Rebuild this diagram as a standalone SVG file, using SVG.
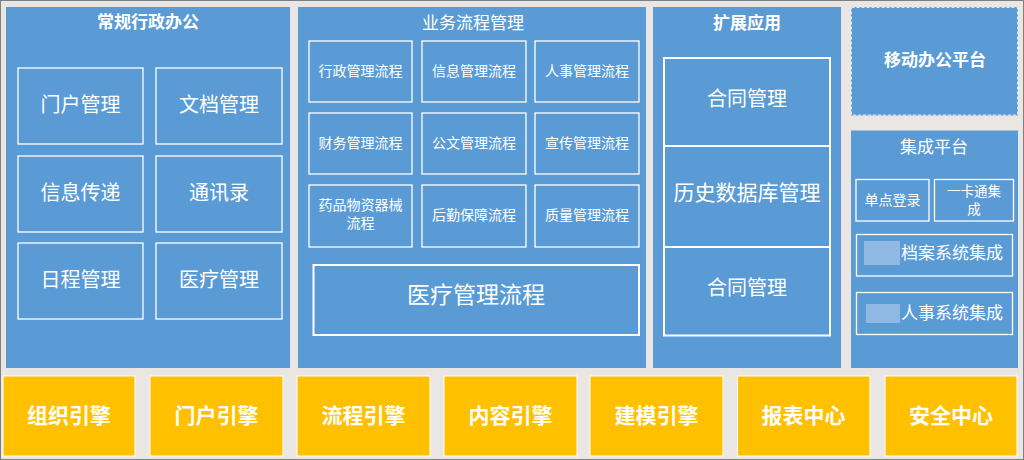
<svg xmlns="http://www.w3.org/2000/svg" width="1024" height="460" viewBox="0 0 1024 460">
<style>
text{font-family:"Noto Sans CJK SC","Noto Sans",sans-serif;fill:#fff;text-anchor:middle;dominant-baseline:central}
.panel{fill:#5b9bd5}
.box{fill:none;stroke:#fff;stroke-width:1.3}
.box2{fill:none;stroke:#fff;stroke-width:2}
.eng{fill:#ffc000;stroke:#fff;stroke-width:1}
.t17{font-size:17px}
.b{font-weight:bold}
.t20{font-size:20px}
.t14{font-size:14px}
.t21b{font-size:21px;font-weight:bold}
.blur{fill:#8fb8e2}
</style>
<rect x="0" y="0" width="1024" height="460" fill="#e9e6e3"/>
<rect x="0.5" y="0.5" width="1023" height="459" fill="none" stroke="#7f7f7f" stroke-width="1"/>

<g id="admin">
<rect class="panel" x="6" y="7" width="284" height="361"/>
<text class="t17 b" x="148" y="20">常规行政办公</text>
<rect class="box" x="18" y="68" width="125" height="76"/><text class="t20" x="80.5" y="103">门户管理</text>
<rect class="box" x="156" y="68" width="126" height="76"/><text class="t20" x="219" y="103">文档管理</text>
<rect class="box" x="18" y="156" width="125" height="76"/><text class="t20" x="80.5" y="191">信息传递</text>
<rect class="box" x="156" y="156" width="126" height="76"/><text class="t20" x="219" y="191">通讯录</text>
<rect class="box" x="18" y="243" width="125" height="76"/><text class="t20" x="80.5" y="278">日程管理</text>
<rect class="box" x="156" y="243" width="126" height="76"/><text class="t20" x="219" y="278">医疗管理</text>
</g>

<g id="workflow">
<rect class="panel" x="298" y="7" width="348" height="361"/>
<text class="t17" x="473" y="21">业务流程管理</text>
<rect class="box" x="309" y="41" width="103" height="61"/><text class="t14" x="360.5" y="69.5">行政管理流程</text>
<rect class="box" x="422" y="41" width="104" height="61"/><text class="t14" x="474" y="69.5">信息管理流程</text>
<rect class="box" x="535" y="41" width="104" height="61"/><text class="t14" x="587" y="69.5">人事管理流程</text>
<rect class="box" x="309" y="113" width="103" height="61"/><text class="t14" x="360.5" y="141.5">财务管理流程</text>
<rect class="box" x="422" y="113" width="104" height="61"/><text class="t14" x="474" y="141.5">公文管理流程</text>
<rect class="box" x="535" y="113" width="104" height="61"/><text class="t14" x="587" y="141.5">宣传管理流程</text>
<rect class="box" x="309" y="185" width="103" height="62"/><text class="t14" x="360.5" y="203.5">药品物资器械</text><text class="t14" x="360.5" y="222">流程</text>
<rect class="box" x="422" y="185" width="104" height="62"/><text class="t14" x="474" y="213.5">后勤保障流程</text>
<rect class="box" x="535" y="185" width="104" height="62"/><text class="t14" x="587" y="213.5">质量管理流程</text>
<rect class="box2" x="313.5" y="265" width="325.5" height="70"/><text x="476" y="293" style="font-size:23px">医疗管理流程</text>
</g>

<g id="extension">
<rect class="panel" x="653" y="7" width="188" height="361"/>
<text class="t17 b" x="747" y="21">扩展应用</text>
<rect class="box2" x="664" y="58" width="166" height="277.5"/>
<line x1="664" y1="146" x2="830" y2="146" stroke="#fff" stroke-width="2"/>
<line x1="664" y1="247" x2="830" y2="247" stroke="#fff" stroke-width="2"/>
<text class="t20" x="747" y="97">合同管理</text>
<text x="747" y="191" style="font-size:21px">历史数据库管理</text>
<text class="t20" x="747" y="286">合同管理</text>
</g>

<g id="mobile">
<rect class="panel" x="851" y="7" width="167" height="108.5"/>
<rect x="851.5" y="7.5" width="166" height="107.5" fill="none" stroke="#fff" stroke-width="1" stroke-dasharray="3,2" opacity="0.8"/>
<text class="t17 b" x="935" y="58.5">移动办公平台</text>
</g>

<g id="integration">
<rect class="panel" x="851" y="130.5" width="167" height="237.5"/>
<text class="t17" x="934" y="145">集成平台</text>
<rect class="box" x="856" y="179.5" width="73" height="41.5"/><text class="t14" x="892.5" y="198.5">单点登录</text>
<rect class="box" x="934.5" y="179.5" width="79" height="41.5"/><text x="974" y="189.5" style="font-size:13.5px">一卡通集</text><text x="974" y="207.5" style="font-size:13.5px">成</text>
<rect class="box" x="856.5" y="234.5" width="156" height="41.5"/>
<rect class="blur" x="864" y="241" width="36" height="24"/>
<text class="t17" x="901" y="251.5" style="text-anchor:start">档案系统集成</text>
<rect class="box" x="856.5" y="292.5" width="156" height="42"/>
<rect class="blur" x="866" y="304" width="34" height="19"/>
<text class="t17" x="901" y="311" style="text-anchor:start">人事系统集成</text>
</g>

<g id="engines">
<rect class="eng" x="3" y="376" width="132" height="80"/><text class="t21b" x="69" y="414">组织引擎</text>
<rect class="eng" x="150" y="376" width="133" height="80"/><text class="t21b" x="216.5" y="414">门户引擎</text>
<rect class="eng" x="297" y="376" width="133" height="80"/><text class="t21b" x="363.5" y="414">流程引擎</text>
<rect class="eng" x="444" y="376" width="133" height="80"/><text class="t21b" x="510.5" y="414">内容引擎</text>
<rect class="eng" x="590" y="376" width="133" height="80"/><text class="t21b" x="656.5" y="414">建模引擎</text>
<rect class="eng" x="737.5" y="376" width="132.5" height="80"/><text class="t21b" x="803.5" y="414">报表中心</text>
<rect class="eng" x="885" y="376" width="132" height="80"/><text class="t21b" x="951" y="414">安全中心</text>
</g>
<g id="connectors"/>
</svg>
